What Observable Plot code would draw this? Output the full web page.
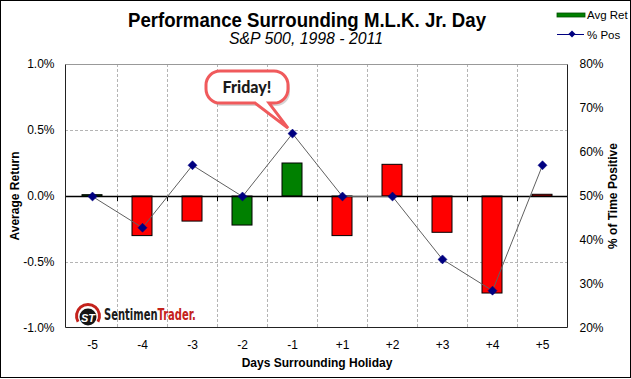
<!DOCTYPE html>
<html>
<head>
<meta charset="utf-8">
<script src="https://cdn.jsdelivr.net/npm/d3@7"></script>
<script src="https://cdn.jsdelivr.net/npm/@observablehq/plot@0.6"></script>
<style>
  html, body { margin: 0; padding: 0; background: #fff; }
  #wrap { position: relative; width: 631px; height: 379px; overflow: hidden; background: #fff; }
  #wrap > svg { position: absolute; left: 0; top: 0; }
  #overlay { pointer-events: none; }
  g[aria-label="x-axis label"] text { font-weight: bold; }
</style>
</head>
<body>
<div id="wrap"></div>
<script>
// ---- data ----
const days = ["-5", "-4", "-3", "-2", "-1", "+1", "+2", "+3", "+4", "+5"];
const avgRet = [0.01, -0.30, -0.19, -0.22, 0.25, -0.30, 0.24, -0.275, -0.735, 0.013]; // %
const barColor = ["#008000", "#FF0000", "#FF0000", "#008000", "#008000", "#FF0000", "#FF0000", "#FF0000", "#FF0000", "#FF0000"];
const pctPos = [50, 42.9, 57.1, 50, 64.3, 50, 50, 35.7, 28.6, 57.1]; // % of time positive
const leftTicks = [-1, -0.5, 0, 0.5, 1];
const rightTicks = [20, 30, 40, 50, 60, 70, 80];
const title = "Performance Surrounding M.L.K. Jr. Day";
const subtitle = "S&P 500, 1998 - 2011";
const leftTitle = "Average Return";
const rightTitle = "% of Time Positive";
const xTitle = "Days Surrounding Holiday";
const calloutText = "Friday!";
const calloutDay = "-1";

const rows = days.map((d, i) => ({day: d, ret: avgRet[i], col: barColor[i], pos: pctPos[i]}));
const toY = p => (p - 50) / 30; // map right axis (20..80%) onto left axis (-1..1%)

const FONT = "'Liberation Sans', Arial, sans-serif";
const NARROW = "'Liberation Sans Narrow', 'DejaVu Sans Condensed', sans-serif";

function bandInfo(x) {
  const step = x(days[1]) - x(days[0]);
  const bw = x.bandwidth ? x.bandwidth() : step * 0.4;
  return {step, bw};
}

// vertical dashed grid between categories
function vGrid(index, scales, values, dims) {
  const x = scales.x;
  const {step, bw} = bandInfo(x);
  const g = d3.create("svg:g");
  for (let i = 1; i < days.length; i++) {
    const xx = Math.round(x(days[i]) - (step - bw) / 2) + 0.5;
    g.append("line").attr("x1", xx).attr("x2", xx)
      .attr("y1", dims.marginTop).attr("y2", dims.height - dims.marginBottom)
      .attr("stroke", "#b4b4b4").attr("stroke-dasharray", "3,2");
  }
  return g.node();
}

// zero line tick marks
function zeroTicks(index, scales, values, dims) {
  const x = scales.x, y = scales.y;
  const {step, bw} = bandInfo(x);
  const y0 = y(0);
  const g = d3.create("svg:g");
  for (let i = 1; i < days.length; i++) {
    const xx = Math.round(x(days[i]) - (step - bw) / 2) + 0.5;
    g.append("line").attr("x1", xx).attr("x2", xx).attr("y1", y0).attr("y2", y0 + 5)
      .attr("stroke", "#000");
  }
  return g.node();
}

// frame
function frame(index, scales, values, dims) {
  const L = dims.marginLeft + 0.5, R = dims.width - dims.marginRight - 0.5;
  const T = dims.marginTop + 0.5, B = dims.height - dims.marginBottom - 0.5;
  const g = d3.create("svg:g");
  g.append("line").attr("x1", L).attr("x2", R).attr("y1", T).attr("y2", T).attr("stroke", "#999");
  g.append("path").attr("d", `M${L},${T}V${B}H${R}V${T}`).attr("fill", "none").attr("stroke", "#222");
  return g.node();
}

// callout anchored on the "-1" point
function callout(index, scales, values, dims) {
  const x = scales.x, y = scales.y;
  const {bw} = bandInfo(x);
  const i = days.indexOf(calloutDay);
  const px = x(calloutDay) + bw / 2, py = y(toY(pctPos[i]));
  const L = px - 86, T = py - 62, W = 82, H = 32, r = 14;
  const R = L + W, B = T + H;
  const bx1 = px - 37, bx2 = px - 23, tx = px - 4, ty = py - 5;
  const d = `M${L + r},${T}H${R - r}A${r},${r} 0 0 1 ${R},${T + r}V${B - r}A${r},${r} 0 0 1 ${R - r},${B}` +
            `H${bx2}L${tx},${ty}L${bx1},${B}H${L + r}A${r},${r} 0 0 1 ${L},${B - r}V${T + r}A${r},${r} 0 0 1 ${L + r},${T}Z`;
  const g = d3.create("svg:g");
  g.append("path").attr("d", d).attr("transform", "translate(2,3)").attr("fill", "#888").attr("opacity", 0.35);
  g.append("path").attr("d", d).attr("fill", "#fff").attr("stroke", "#f05a5c").attr("stroke-width", 3);
  g.append("text").attr("x", L + W / 2).attr("y", T + 21.5).attr("text-anchor", "middle")
    .attr("font-family", "Lato, 'Open Sans', sans-serif").attr("font-weight", "900")
    .attr("font-size", 16).attr("fill", "#1a1a1a").text(calloutText);
  return g.node();
}

// SentimenTrader logo
function logo(index, scales, values, dims) {
  const x0 = dims.marginLeft, yb = dims.height - dims.marginBottom;
  const cx = x0 + 23, cy = yb - 12;
  const g = d3.create("svg:g").attr("text-anchor", "start");
  const arc = d3.arc()({innerRadius: 10, outerRadius: 13, startAngle: -2.1, endAngle: 2.1});
  g.append("path").attr("d", arc).attr("transform", `translate(${cx},${cy})`).attr("fill", "#c4221c");
  g.append("circle").attr("cx", cx).attr("cy", cy + 1).attr("r", 8.5).attr("fill", "#151515");
  g.append("text").attr("x", cx).attr("y", cy + 5.5).attr("text-anchor", "middle")
    .attr("font-family", FONT).attr("font-weight", "bold").attr("font-style", "italic")
    .attr("font-size", 11).attr("fill", "#fff").text("ST");
  const t = g.append("text").attr("class", "logo-word")
    .attr("transform", `translate(${x0 + 39},${yb - 8.5})`).attr("text-anchor", "start")
    .attr("font-family", NARROW).attr("font-weight", "bold").attr("font-size", 15);
  t.append("tspan").attr("fill", "#1a1a1a").text("Sentimen");
  t.append("tspan").attr("fill", "#c4221c").text("Trader.");
  return g.node();
}

const chart = Plot.plot({
  width: 631,
  height: 379,
  marginLeft: 65,
  marginRight: 63,
  marginTop: 64,
  marginBottom: 51,
  style: {fontFamily: FONT, fontSize: "12px", background: "transparent", color: "#000"},
  x: {type: "band", domain: days, paddingInner: 0.6, paddingOuter: 0.3, axis: null},
  y: {domain: [-1, 1], axis: null},
  marks: [
    vGrid,
    Plot.ruleY([-0.5, 0.5], {stroke: "#b4b4b4", strokeDasharray: "3,2"}),
    logo,
    Plot.barY(rows, {x: "day", y: "ret", fill: "col", stroke: "#000", strokeWidth: 1}),
    Plot.ruleY([0], {stroke: "#000", strokeWidth: 1.5}),
    zeroTicks,
    frame,
    Plot.line(rows, {x: "day", y: d => toY(d.pos), stroke: "#606060", strokeWidth: 1}),
    Plot.dot(rows, {x: "day", y: d => toY(d.pos), symbol: "square", rotate: 45, r: 3.6, fill: "#000080", stroke: "#000080", strokeWidth: 0.5}),
    callout,
    Plot.axisY(leftTicks, {
      anchor: "left", tickSize: 0, tickPadding: 11, fontSize: 12,
      tickFormat: d => d.toFixed(1) + "%", label: null
    }),
    Plot.axisY(rightTicks.map(toY), {
      anchor: "right", tickSize: 0, tickPadding: 11, fontSize: 12,
      tickFormat: d => Math.round(d * 30 + 50) + "%", label: null
    }),
    Plot.axisX({
      tickSize: 0, tickPadding: 12, fontSize: 12,
      label: xTitle, labelAnchor: "center", labelOffset: 38, labelArrow: "none"
    })
  ]
});

const wrap = document.getElementById("wrap");
wrap.appendChild(chart);

// fit the logo word to its width by horizontal scaling (keeps natural glyph layout)
d3.select(chart).selectAll("text.logo-word").each(function() {
  const len = this.getComputedTextLength();
  if (len > 0) {
    const tr = this.getAttribute("transform");
    this.setAttribute("transform", `${tr} scale(${92 / len},1)`);
  }
});

// overlay: title, subtitle, axis titles, legend, outer border
const ov = d3.select(wrap).append("svg").attr("id", "overlay")
  .attr("width", 631).attr("height", 379);
ov.append("text").attr("x", 307).attr("y", 27).attr("text-anchor", "middle")
  .attr("font-family", FONT).attr("font-weight", "bold").attr("font-size", 19.5)
  .attr("textLength", 358).attr("lengthAdjust", "spacingAndGlyphs").text(title);
ov.append("text").attr("x", 306).attr("y", 44).attr("text-anchor", "middle")
  .attr("font-family", FONT).attr("font-style", "italic").attr("font-size", 16)
  .attr("textLength", 154).attr("lengthAdjust", "spacingAndGlyphs").text(subtitle);
ov.append("text").attr("transform", "translate(19,196) rotate(-90)").attr("text-anchor", "middle")
  .attr("font-family", FONT).attr("font-weight", "bold").attr("font-size", 12).text(leftTitle);
ov.append("text").attr("transform", "translate(617,196) rotate(-90)").attr("text-anchor", "middle")
  .attr("font-family", FONT).attr("font-weight", "bold").attr("font-size", 12).text(rightTitle);
// legend
ov.append("rect").attr("x", 557).attr("y", 13).attr("width", 28).attr("height", 4)
  .attr("fill", "#008000").attr("stroke", "#004d00").attr("stroke-width", 0.8);
ov.append("text").attr("x", 587).attr("y", 19).attr("font-family", FONT).attr("font-size", 11.5).text("Avg Ret");
ov.append("line").attr("x1", 557).attr("x2", 584).attr("y1", 34.5).attr("y2", 34.5).attr("stroke", "#000080");
ov.append("rect").attr("x", 569.5).attr("y", 31.5).attr("width", 5).attr("height", 5)
  .attr("transform", "rotate(45,572,34)").attr("fill", "#000080");
ov.append("text").attr("x", 587).attr("y", 39).attr("font-family", FONT).attr("font-size", 11.5).text("% Pos");
// outer border
ov.append("rect").attr("x", 0.5).attr("y", 0.5).attr("width", 630).attr("height", 377)
  .attr("fill", "none").attr("stroke", "#000");
</script>
</body>
</html>
